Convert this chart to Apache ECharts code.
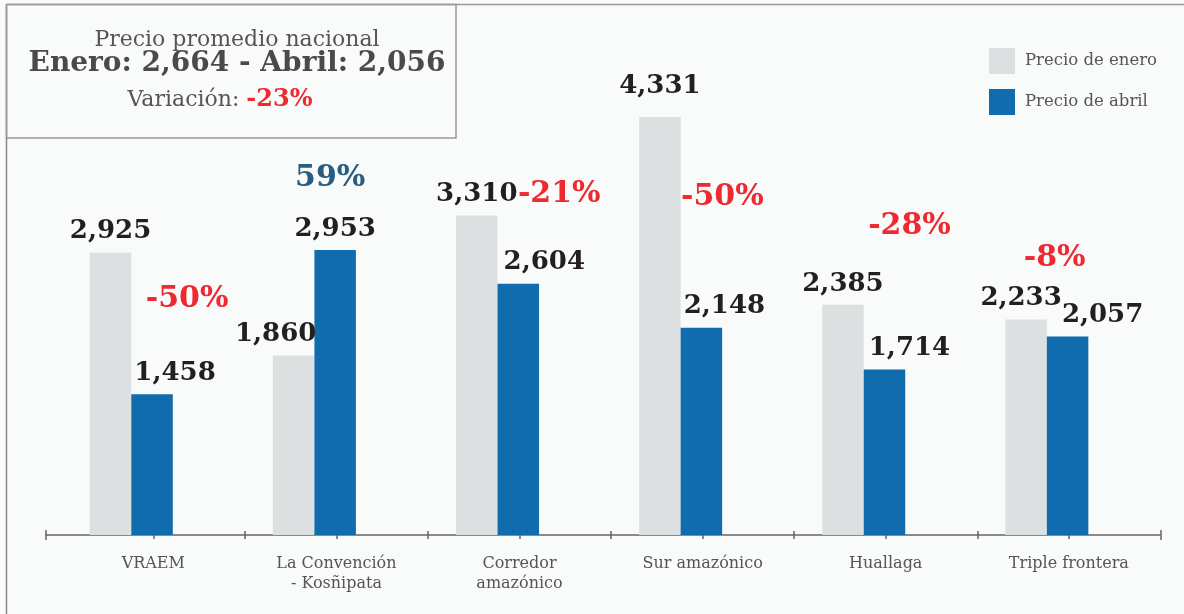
<!DOCTYPE html>
<html>
<head>
<meta charset="utf-8">
<script src="https://cdn.jsdelivr.net/npm/echarts@6/dist/echarts.min.js"></script>
<style>
html,body{margin:0;padding:0;background:#f9fafa;}
#c{width:1184px;height:614px;}
</style>
</head>
<body>
<div id="c"></div>
<script>
// ---- data ----
var categories = ['VRAEM', 'La Convención\n- Kosñipata', 'Corredor\namazónico', 'Sur amazónico', 'Huallaga', 'Triple frontera'];
var precioEnero = [2925, 1860, 3310, 4331, 2385, 2233];
var precioAbril = [1458, 2953, 2604, 2148, 1714, 2057];
var variacion = ['-50%', '59%', '-21%', '-50%', '-28%', '-8%'];
var seriesNames = ['Precio de enero', 'Precio de abril'];
var nacionalTitulo = 'Precio promedio nacional';
var nacionalEnero = '2,664';
var nacionalAbril = '2,056';
var nacionalVariacion = '-23%';

// ---- styles (label nudges in px) ----
var eneroLabelOffset = [[0,0],[-18,0],[0,0],[0,-10],[0,0],[-5,0]];
var abrilLabelOffset = [[23,0],[0,0],[26,0],[23,0],[25,0],[35,0]];
var pctOffset = [[35,-95],[-5,-72],[41,-90],[21,-131],[25,-143],[-13,-78]];

var FONT = 'DejaVu Serif';
var RED = '#ec2a30', POS = '#275d80', GRAY_BAR = '#dce0e0', BLUE_BAR = '#116cae';
function fmt(v){ return v.toLocaleString('en-US'); }

var chart = echarts.init(document.getElementById('c'), null, {renderer:'canvas'});

var numLabel = {show:true, position:'top', distance:8, fontFamily:FONT, fontWeight:'bold', fontSize:26, color:'#231f20',
  formatter:function(p){return fmt(p.value);}};

var eneroData = precioEnero.map(function(v,i){return {value:v, label:{offset:eneroLabelOffset[i]}};});
var abrilData = precioAbril.map(function(v,i){return {value:v, label:{offset:abrilLabelOffset[i]}};});
var pctData = variacion.map(function(t,i){
  return {coord:[i, precioAbril[i]], value:t,
    label:{offset:pctOffset[i], color: t.charAt(0)==='-' ? RED : POS}};
});

var TOP = 52.5, BOTTOM = 79;
var axisColor = '#666';
function hiddenY(g){return {type:'value', gridIndex:g, min:0, max:5000, show:false};}
function skipFirst(i){ return i !== 0; }
function tickAxis(opts){
  var base = {gridIndex:1, type:'category', position:'bottom', data:categories, boundaryGap:true,
    axisLine:{show:false}, axisTick:{show:true, interval:skipFirst, length:4, lineStyle:{color:axisColor, width:1.5}},
    axisLabel:{show:false}, splitLine:{show:false}};
  for (var k in opts) base[k] = opts[k];
  return base;
}

var option = {
  backgroundColor:'#f9fafa',
  animation:false,
  grid:[
    {left:39.75, right:45.6, top:TOP, bottom:BOTTOM},
    {left:61.75, right:23.6, top:TOP, bottom:BOTTOM},
    {left:46, right:23.6, top:TOP, bottom:BOTTOM}
  ],
  legend:{
    data:seriesNames, orient:'vertical', left:984, top:43, itemWidth:26, itemHeight:26, itemGap:15,
    icon:'rect', selectedMode:false, textStyle:{fontFamily:FONT, fontSize:16.5, color:'#555', padding:[0,0,0,5]}
  },
  xAxis:[
    {type:'category', gridIndex:0, data:categories, show:false},
    // labels + center ticks (outside)
    tickAxis({axisTick:{show:true, alignWithLabel:true, length:4, lineStyle:{color:axisColor, width:1.5}},
      axisLabel:{show:true, fontFamily:FONT, fontSize:16, color:'#555', margin:19, lineHeight:20, interval:0}}),
    // center ticks (inside)
    tickAxis({axisTick:{show:true, inside:true, alignWithLabel:true, length:4, lineStyle:{color:axisColor, width:1.5}}}),
    // boundary ticks outside / inside
    tickAxis({}),
    tickAxis({axisTick:{show:true, inside:true, interval:skipFirst, length:4, lineStyle:{color:axisColor, width:1.5}}}),
    // full axis line with end ticks
    {type:'value', gridIndex:2, position:'bottom', min:0, max:1, interval:1, axisLine:{show:true, lineStyle:{color:axisColor, width:1.5}},
      axisTick:{show:true, length:5, lineStyle:{color:axisColor, width:1.5}}, axisLabel:{show:false}, splitLine:{show:false}},
    {type:'value', gridIndex:2, position:'bottom', min:0, max:1, interval:1, axisLine:{show:false},
      axisTick:{show:true, inside:true, length:5, lineStyle:{color:axisColor, width:1.5}}, axisLabel:{show:false}, splitLine:{show:false}}
  ],
  yAxis:[hiddenY(0), hiddenY(1), hiddenY(2)],
  series:[
    {name:seriesNames[0], type:'bar', xAxisIndex:0, yAxisIndex:0, data:eneroData, barWidth:41.5, barGap:'0%',
      itemStyle:{color:GRAY_BAR}, label:numLabel},
    {name:seriesNames[1], type:'bar', xAxisIndex:0, yAxisIndex:0, data:abrilData, barWidth:41.5, barGap:'0%',
      itemStyle:{color:BLUE_BAR}, label:numLabel,
      markPoint:{symbol:'circle', symbolSize:0, data:pctData,
        label:{show:true, position:'inside', fontFamily:FONT, fontWeight:'bold', fontSize:30,
          formatter:function(p){return p.value;}}}}
  ],
  graphic:[
    {type:'line', shape:{x1:7, y1:4.5, x2:1184, y2:4.5}, style:{stroke:'#999', lineWidth:1.5}, silent:true},
    {type:'line', shape:{x1:6.5, y1:4.5, x2:6.5, y2:614}, style:{stroke:'#888', lineWidth:1.5}, silent:true},
    {type:'rect', shape:{x:6.5, y:4.5, width:449.5, height:133.5}, style:{fill:'rgba(0,0,0,0)', stroke:'#999', lineWidth:1.5}, silent:true},
    {type:'text', x:237, y:40, style:{text:nacionalTitulo, fontFamily:FONT, fontSize:22, fill:'#555', align:'center', verticalAlign:'middle'}},
    {type:'text', x:237, y:64, style:{text:'Enero: ' + nacionalEnero + ' - Abril: ' + nacionalAbril, fontFamily:FONT, fontWeight:'bold', fontSize:28, fill:'#4a4a4a', align:'center', verticalAlign:'middle'}},
    {type:'text', x:220, y:100, style:{text:'{a|Variación: }{b|' + nacionalVariacion + '}', align:'center', verticalAlign:'middle',
      rich:{a:{fontFamily:FONT, fontSize:22, fill:'#555', color:'#555'}, b:{fontFamily:FONT, fontSize:24, fontWeight:'bold', fill:RED, color:RED}}}}
  ]
};
chart.setOption(option);
</script>
</body>
</html>
